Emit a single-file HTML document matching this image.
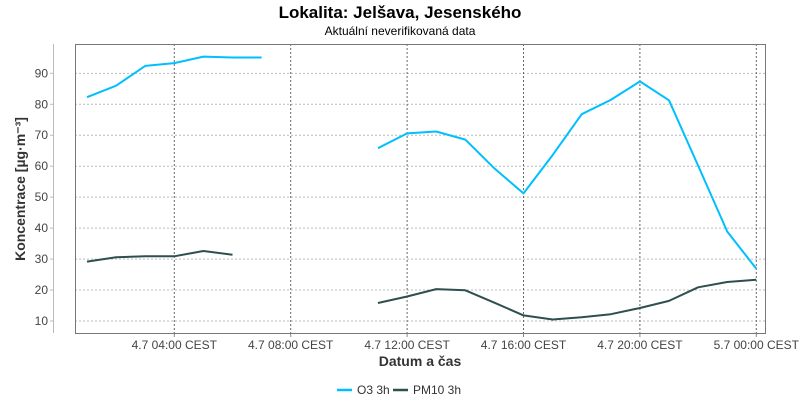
<!DOCTYPE html>
<html><head><meta charset="utf-8"><style>
body{margin:0;background:#fff;font-family:"Liberation Sans",sans-serif}
svg text{font-family:"Liberation Sans",sans-serif}
</style></head><body>
<svg id="c" width="800" height="400">
<text x="400" y="18" text-anchor="middle" font-size="17" font-weight="bold" fill="#000">Lokalita: Jelšava, Jesenského</text>
<text x="400" y="35" text-anchor="middle" font-size="12" fill="#000">Aktuální neverifikovaná data</text>
<g id="grid"></g>
<rect x="75.5" y="44.5" width="690" height="289" fill="none" stroke="#777"/>
<line x1="53.5" y1="44" x2="53.5" y2="333" stroke="#bbb"/>
<g id="series"></g>
<text transform="translate(25,189) rotate(-90)" text-anchor="middle" font-size="14" font-weight="bold" fill="#333">Koncentrace [µg·m⁻³]</text>
<text x="420" y="366" text-anchor="middle" font-size="14" font-weight="bold" fill="#333">Datum a čas</text>
<g>
<line x1="337" y1="390" x2="352" y2="390" stroke="#00bfff" stroke-width="2.5"/>
<text x="357" y="394" font-size="12" fill="#333">O3 3h</text>
<line x1="393" y1="390" x2="408" y2="390" stroke="#2f4f4f" stroke-width="2.5"/>
<text x="413" y="394" font-size="12" fill="#333">PM10 3h</text>
</g>
</svg>
<script>
const hours=[1,2,3,4,5,6,7,8,9,10,11,12,13,14,15,16,17,18,19,20,21,22,23,24];
const o3=[82.3,86,92.4,93.3,95.4,95.1,95.1,null,null,null,65.8,70.6,71.2,68.6,59.3,51.2,63.6,76.8,81.4,87.4,81.3,60.2,38.9,26.9];
const pm10=[29.2,30.6,30.9,30.9,32.6,31.4,null,null,null,null,15.8,17.9,20.3,19.9,15.9,11.8,10.5,11.2,12.2,14.2,16.5,20.9,22.6,23.3];
const yTicks=[10,20,30,40,50,60,70,80,90];
const xTickHours=[4,8,12,16,20,24];
const xTickLabels=["4.7 04:00 CEST","4.7 08:00 CEST","4.7 12:00 CEST","4.7 16:00 CEST","4.7 20:00 CEST","5.7 00:00 CEST"];
const NS="http://www.w3.org/2000/svg";
const X=h=>174.3+(h-4)*29.1;
const Y=v=>321-(v-10)*3.096;
const grid=document.getElementById('grid'),ser=document.getElementById('series');
function mk(tag,attrs,parent){const e=document.createElementNS(NS,tag);for(const k in attrs)e.setAttribute(k,attrs[k]);parent.appendChild(e);return e;}
yTicks.forEach(v=>{
  const l=mk('line',{x1:75,x2:765,y1:Y(v),y2:Y(v),stroke:'#bbb','stroke-dasharray':'2,2'},grid);
  
  
  const t=mk('line',{x1:50,x2:54,y1:Y(v),y2:Y(v),stroke:'#bbb'},grid);
  
  
  const tx=mk('text',{x:48,y:Y(v)+4,'text-anchor':'end','font-size':12,fill:'#444'},grid);
  tx.textContent=v;
  
  
});
xTickHours.forEach((h,i)=>{
  const l=mk('line',{x1:X(h),x2:X(h),y1:44,y2:333,stroke:'#666','stroke-dasharray':'2,2'},grid);
  
  
  const t=mk('line',{x1:X(h),x2:X(h),y1:333,y2:337,stroke:'#888'},grid);
  
  
  const tx=mk('text',{x:X(h),y:349,'text-anchor':'middle','font-size':12,fill:'#444'},grid);
  tx.textContent=xTickLabels[i];
  
  
});
function draw(vals,color,name){
  let segs=[],cur=[];
  vals.forEach((v,i)=>{if(v==null){if(cur.length)segs.push(cur);cur=[];}else cur.push(X(hours[i]).toFixed(1)+','+Y(v).toFixed(1));});
  if(cur.length)segs.push(cur);
  segs.forEach(s=>{
    const p=mk('polyline',{points:s.join(' '),fill:'none',stroke:color,'stroke-width':2,'stroke-linejoin':'round'},ser);
    
    
  });
}
draw(o3,'#00bfff','o3-line');
draw(pm10,'#2f4f4f','pm10-line');
</script>
</body></html>
